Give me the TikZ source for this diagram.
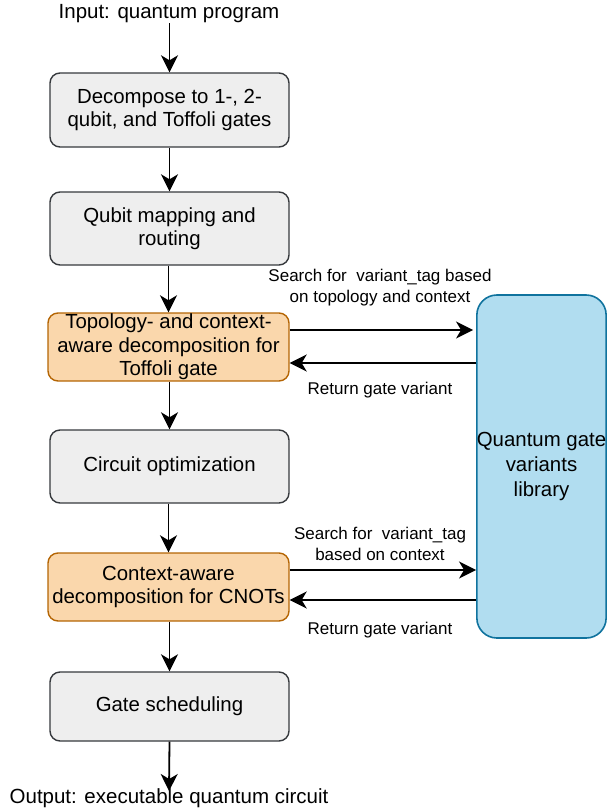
\documentclass[tikz,border=0pt]{standalone}
\usepackage{fontspec}
\setmainfont{Liberation Sans}
\usetikzlibrary{arrows.meta,calc}
\definecolor{grayfill}{HTML}{EEEEEE}
\definecolor{graydraw}{HTML}{36393D}
\definecolor{orangefill}{HTML}{FAD7AC}
\definecolor{orangedraw}{HTML}{B46504}
\definecolor{bluefill}{HTML}{B1DDF0}
\definecolor{bluedraw}{HTML}{10739E}
\tikzset{
  stage/.style={draw=graydraw, fill=grayfill, line width=1.4pt, rounded corners=10pt,
    minimum width=239pt, inner sep=0pt, align=center,
    font=\fontsize{20.4}{23.5}\selectfont},
  ctxstage/.style={stage, draw=orangedraw, fill=orangefill, minimum width=241pt},
  libbox/.style={draw=bluedraw, fill=bluefill, line width=1.6pt, rounded corners=20pt,
    minimum width=129pt, minimum height=343pt, inner sep=0pt, align=center,
    font=\fontsize{20.4}{25}\selectfont},
  io/.style={inner sep=0pt, font=\fontsize{20.5}{24}\selectfont},
  lbl/.style={inner sep=0pt, align=center, font=\fontsize{17}{20.5}\selectfont},
  arr/.style={line width=1.8pt, -{Stealth[length=17pt,width=17pt,inset=5pt]}},
}
\begin{document}
\begin{tikzpicture}[x=1pt,y=1pt]
\useasboundingbox (0,0) rectangle (608,-812);

% main pipeline
\node[io] (in) at (169,-14) {Input: quantum program};
\node[stage, minimum height=74pt] (dec) at (169.5,-110) {Decompose to 1-, 2-\\qubit, and Toffoli gates};
\node[stage, minimum height=73pt] (map) at (169.5,-228.5) {Qubit mapping and\\routing};
\node[ctxstage, minimum height=68pt] (tof) at (168.5,-347) {Topology- and context-\\aware decomposition for\\Toffoli gate};
\node[stage, minimum height=73pt] (opt) at (169.5,-466.5) {Circuit optimization};
\node[ctxstage, minimum height=68pt] (cnot) at (168.5,-587) {Context-aware\\decomposition for CNOTs};
\node[stage, minimum height=69pt] (sch) at (169.5,-706.5) {Gate scheduling};
\node[io] (out) at (169,-798) {Output: executable quantum circuit};
\coordinate (outtip) at (169,-791);

% gate variant library
\node[libbox] (lib) at (541.5,-466.5) {Quantum gate\\variants\\library};

% vertical flow
\draw[arr] (in.south -| dec.north) -- (dec.north);
\draw[arr] (dec.south -| map.north) -- (map.north);
\draw[arr] (map.south -| tof.north) -- (tof.north);
\draw[arr] (tof.south -| opt.north) -- (opt.north);
\draw[arr] (opt.south -| cnot.north) -- (cnot.north);
\draw[arr] (cnot.south -| sch.north) -- (sch.north);
\draw[arr] (sch.south) -- (outtip);

% library queries
\draw[arr] ([yshift=17pt]tof.east) -- ([yshift=17pt,xshift=-3pt]tof.east -| lib.west);
\draw[arr] ([yshift=-16pt]tof.east -| lib.west) -- ([yshift=-16pt]tof.east);
\draw[arr] ([yshift=17pt]cnot.east) -- ([yshift=17pt]cnot.east -| lib.west);
\draw[arr] ([yshift=-13pt]cnot.east -| lib.west) -- ([yshift=-13pt]cnot.east);

% labels
\node[lbl] (q1) at (380,-287.5) {Search for\ \ variant\_tag based\\on topology and context};
\node[lbl] (r1) at (380,-390) {Return gate variant};
\node[lbl] (q2) at (380,-544) {Search for\ \ variant\_tag\\based on context};
\node[lbl] (r2) at (380,-630) {Return gate variant};
\end{tikzpicture}
\end{document}
